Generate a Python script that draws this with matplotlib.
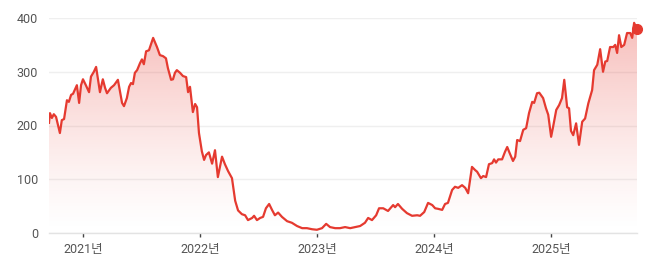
import matplotlib
matplotlib.use("Agg")
import matplotlib.pyplot as plt
import matplotlib.dates as mdates
import numpy as np
import pandas as pd

# --- Plot Config ---
plt.rcParams.update({
    "font.family": ["Roboto", "Noto Sans CJK KR", "DejaVu Sans"],
    "font.size": 9,
})

# --- Data ---
dates = [
    # 2020
    "2020-09-17", "2020-09-20", "2020-09-26", "2020-10-02", "2020-10-09", "2020-10-21",
    "2020-10-27", "2020-11-03", "2020-11-12", "2020-11-18", "2020-11-25", "2020-12-01",
    "2020-12-13", "2020-12-20", "2020-12-26",
    # 2021
    "2021-01-01", "2021-01-10", "2021-01-20", "2021-01-26", "2021-02-04", "2021-02-11",
    "2021-02-17", "2021-02-23", "2021-03-04", "2021-03-11", "2021-03-17", "2021-03-29",
    "2021-04-08", "2021-04-20", "2021-04-27", "2021-05-03", "2021-05-09", "2021-05-18",
    "2021-05-25", "2021-05-31", "2021-06-06", "2021-06-12", "2021-06-19", "2021-06-28",
    "2021-07-04", "2021-07-10", "2021-07-17", "2021-07-26", "2021-08-08", "2021-08-20",
    "2021-08-29", "2021-09-08", "2021-09-17", "2021-09-23", "2021-10-03", "2021-10-09",
    "2021-10-15", "2021-10-21", "2021-10-31", "2021-11-09", "2021-11-19", "2021-11-25",
    "2021-12-01", "2021-12-10", "2021-12-17", "2021-12-23", "2021-12-29",
    # 2022
    "2022-01-07", "2022-01-14", "2022-01-20", "2022-01-29", "2022-02-08", "2022-02-17",
    "2022-02-26", "2022-03-11", "2022-03-20", "2022-03-30", "2022-04-11", "2022-04-21",
    "2022-04-30", "2022-05-12", "2022-05-22", "2022-05-31", "2022-06-13", "2022-06-19",
    "2022-06-28", "2022-07-08", "2022-07-17", "2022-07-26", "2022-08-05", "2022-08-14",
    "2022-08-23", "2022-09-02", "2022-09-14", "2022-09-30", "2022-10-15", "2022-10-31",
    "2022-11-16", "2022-12-01", "2022-12-17",
    # 2023
    "2023-01-01", "2023-01-17", "2023-01-30", "2023-02-11", "2023-02-27", "2023-03-14",
    "2023-03-30", "2023-04-15", "2023-04-30", "2023-05-16", "2023-05-31", "2023-06-10",
    "2023-06-22", "2023-07-05", "2023-07-14", "2023-07-27", "2023-08-11", "2023-08-27",
    "2023-09-02", "2023-09-11", "2023-09-24", "2023-10-09", "2023-10-25", "2023-11-10",
    "2023-11-19", "2023-12-02", "2023-12-14", "2023-12-27",
    # 2024
    "2024-01-05", "2024-01-14", "2024-01-27", "2024-02-05", "2024-02-14", "2024-02-27",
    "2024-03-07", "2024-03-17", "2024-03-29", "2024-04-08", "2024-04-17", "2024-04-29",
    "2024-05-09", "2024-05-15", "2024-05-27", "2024-06-03", "2024-06-12", "2024-06-21",
    "2024-07-01", "2024-07-07", "2024-07-13", "2024-07-20", "2024-08-01", "2024-08-10",
    "2024-08-17", "2024-08-23", "2024-09-04", "2024-09-11", "2024-09-17", "2024-09-26",
    "2024-10-06", "2024-10-15", "2024-10-24", "2024-11-03", "2024-11-09", "2024-11-18",
    "2024-11-25", "2024-12-07", "2024-12-16", "2024-12-23",
    # 2025
    "2025-01-01", "2025-01-07", "2025-01-17", "2025-01-26", "2025-02-04", "2025-02-11",
    "2025-02-20", "2025-02-26", "2025-03-04", "2025-03-11", "2025-03-20", "2025-03-29",
    "2025-04-08", "2025-04-17", "2025-04-27", "2025-05-09", "2025-05-15", "2025-05-25",
    "2025-06-03", "2025-06-12", "2025-06-19", "2025-06-25", "2025-07-04", "2025-07-14",
    "2025-07-20", "2025-07-26", "2025-08-01", "2025-08-08", "2025-08-17", "2025-08-26",
    "2025-09-05", "2025-09-11", "2025-09-17", "2025-09-26",
]

values = [
    # 2020
    205, 223, 214, 221, 216, 186,
    210, 212, 247, 244, 257, 259,
    275, 242, 275,
    # 2021
    286, 275, 262, 291, 300, 309,
    285, 262, 286, 270, 260, 270,
    275, 285, 262, 242, 236, 251,
    272, 279, 277, 298, 303, 316,
    323, 314, 338, 340, 363, 346,
    331, 329, 325, 307, 285, 286,
    298, 303, 298, 292, 290, 262,
    272, 225, 240, 234, 186,
    # 2022
    152, 136, 145, 150, 129, 154,
    104, 142, 128, 115, 102, 60,
    42, 35, 33, 24, 28, 32,
    24, 28, 30, 46, 54, 43,
    33, 38, 30, 22, 19, 13,
    9, 9, 7,
    # 2023
    6, 9, 17, 11, 9, 9,
    11, 9, 11, 13, 19, 28,
    24, 33, 46, 46, 41, 52,
    48, 54, 45, 37, 32, 33,
    32, 39, 56, 52,
    # 2024
    46, 45, 43, 54, 56, 80,
    86, 84, 89, 84, 74, 123,
    117, 114, 102, 106, 104, 128,
    130, 137, 131, 137, 137, 151,
    160, 151, 134, 142, 173, 171,
    192, 195, 223, 244, 242, 260,
    261, 251, 232, 220,
    # 2025
    179, 197, 229, 238, 251, 285,
    234, 232, 190, 182, 204, 164,
    207, 213, 241, 266, 303, 313,
    342, 300, 319, 320, 346, 346,
    350, 335, 368, 346, 350, 372,
    372, 363, 391, 379,
]

year_ticks = ["2021-01-01", "2022-01-01", "2023-01-01", "2024-01-01", "2025-01-01"]
year_labels = ["2021년", "2022년", "2023년", "2024년", "2025년"]
y_ticks = [0, 100, 200, 300, 400]

x = pd.to_datetime(dates)
y = np.array(values, dtype=float)

line_color = "#e53a30"

# --- Figure ---
fig = plt.figure(figsize=(6.58, 2.69), dpi=100)
ax = fig.add_axes([49 / 658, 1 - 233 / 269, (637 - 49) / 658, (233 - 18) / 269])

# gradient fill under the line
poly = ax.fill_between(x, y, 0, color="none", lw=0)
xn = mdates.date2num(x)
grad = np.linspace(0, 1, 256).reshape(-1, 1) ** 1.3
rgba = np.zeros((256, 1, 4))
rgba[..., :3] = matplotlib.colors.to_rgb("#e8453c")
rgba[..., 3] = grad[::-1] * 0.36
img = ax.imshow(rgba, extent=[xn.min(), xn.max(), 0, 400], aspect="auto",
                origin="upper", zorder=1)
img.set_clip_path(poly.get_paths()[0], transform=ax.transData)

ax.plot(x, y, color=line_color, lw=1.6, zorder=3, solid_joinstyle="round")
ax.plot(x[-1:], y[-1:], "o", color=line_color, ms=7, zorder=4, clip_on=False)

# --- Axes styling ---
ax.set_xlim(xn.min(), xn.max())
ax.set_ylim(0, 400)
ax.set_yticks(y_ticks)
ax.set_xticks(pd.to_datetime(year_ticks))
ax.set_xticklabels(year_labels)
ax.grid(axis="y", color="#efefef", lw=1)
ax.set_axisbelow(True)
for s in ["top", "right", "left"]:
    ax.spines[s].set_visible(False)
ax.spines["bottom"].set_color("#e3e3e3")
ax.spines["bottom"].set_linewidth(1)

ax.tick_params(axis="y", length=0, pad=8, labelcolor="#555555", labelsize=9)
ax.tick_params(axis="x", length=3, width=1, color="#444444", pad=4,
               labelcolor="#555555", labelsize=9)

fig.savefig("out.png", dpi=100)
